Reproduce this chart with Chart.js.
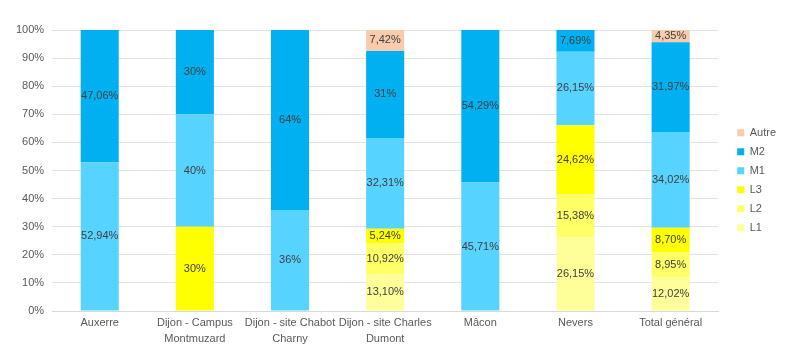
<!DOCTYPE html>
<html>
<head>
<meta charset="utf-8">
<script src="https://cdn.jsdelivr.net/npm/chart.js@4"></script>
<style>
  html, body { margin: 0; padding: 0; background: #fff; }
  #wrap { width: 800px; height: 362px; }
</style>
</head>
<body>
<div id="wrap"><canvas id="levels"></canvas></div>
<script>
// Sites (x axis)
const sites = [
  'Auxerre',
  ['Dijon - Campus', 'Montmuzard'],
  ['Dijon - site Chabot', 'Charny'],
  ['Dijon - site Charles', 'Dumont'],
  'Mâcon',
  'Nevers',
  'Total général'
];

// Share of each level per site, in %
const L1 = [0, 0, 0, 13.10, 0, 26.15, 12.02];
const L2 = [0, 0, 0, 10.92, 0, 15.38, 8.95];
const L3 = [0, 30, 0, 5.24, 0, 24.62, 8.70];
const M1 = [52.94, 40, 36, 32.31, 45.71, 26.15, 34.02];
const M2 = [47.06, 30, 64, 31, 54.29, 7.69, 31.97];
const Autre = [0, 0, 0, 7.42, 0, 0, 4.35];

const yTicks = [0, 10, 20, 30, 40, 50, 60, 70, 80, 90, 100];

function fmt(v) {
  const s = Number.isInteger(v) ? String(v) : v.toFixed(2);
  return s.replace('.', ',') + '%';
}

// draw the value in the middle of each segment
const segmentLabels = {
  id: 'segmentLabels',
  afterDatasetsDraw(chart) {
    const ctx = chart.ctx;
    ctx.save();
    ctx.font = '11px "Liberation Sans", Arial, sans-serif';
    ctx.fillStyle = '#404040';
    ctx.textAlign = 'center';
    ctx.textBaseline = 'middle';
    chart.data.datasets.forEach((ds, i) => {
      const meta = chart.getDatasetMeta(i);
      if (meta.hidden) return;
      meta.data.forEach((bar, j) => {
        const v = ds.data[j];
        if (!v) return;
        const p = bar.getCenterPoint();
        ctx.fillText(fmt(v), p.x, p.y);
      });
    });
    ctx.restore();
  }
};

Chart.defaults.font.family = '"Liberation Sans", Arial, sans-serif';
Chart.defaults.font.size = 11;
Chart.defaults.color = '#595959';

const ctx = document.getElementById('levels').getContext('2d');
new Chart(ctx, {
  type: 'bar',
  data: {
    labels: sites,
    datasets: [
      { label: 'L1', data: L1, backgroundColor: '#FFFF99' },
      { label: 'L2', data: L2, backgroundColor: '#FFFF66' },
      { label: 'L3', data: L3, backgroundColor: '#FFFF00' },
      { label: 'M1', data: M1, backgroundColor: '#57D3FF' },
      { label: 'M2', data: M2, backgroundColor: '#00B0F0' },
      { label: 'Autre', data: Autre, backgroundColor: '#F8CBAD' }
    ]
  },
  options: {
    responsive: true,
    maintainAspectRatio: false,
    animation: false,
    layout: { padding: { left: 8, right: 14, top: 30, bottom: 11 } },
    datasets: {
      bar: { categoryPercentage: 1, barPercentage: 0.4 }
    },
    scales: {
      x: {
        stacked: true,
        grid: { display: false, drawTicks: false },
        border: { color: '#d9d9d9' },
        ticks: { maxRotation: 0, autoSkip: false, padding: 4, font: { lineHeight: 1.45 } }
      },
      y: {
        stacked: true,
        min: 0,
        max: 100,
        afterBuildTicks(axis) {
          axis.ticks = yTicks.map(v => ({ value: v }));
        },
        grid: { color: '#e3e3e3', drawTicks: false },
        border: { display: false },
        ticks: { padding: 8, callback: v => v + '%' }
      },
      // empty axis, only keeps a gap between the bars and the legend
      gap: {
        type: 'linear',
        position: 'right',
        display: true,
        grid: { display: false, drawTicks: false },
        border: { display: false },
        ticks: { display: false },
        afterFit(scale) { scale.width = 11; }
      }
    },
    plugins: {
      legend: {
        position: 'right',
        reverse: true,
        fullSize: false,
        title: { display: true, text: ' ', padding: 3 },
        labels: { boxWidth: 7, boxHeight: 7, padding: 8, color: '#595959' }
      },
      tooltip: { enabled: false }
    }
  },
  plugins: [segmentLabels]
});
</script>
</body>
</html>
